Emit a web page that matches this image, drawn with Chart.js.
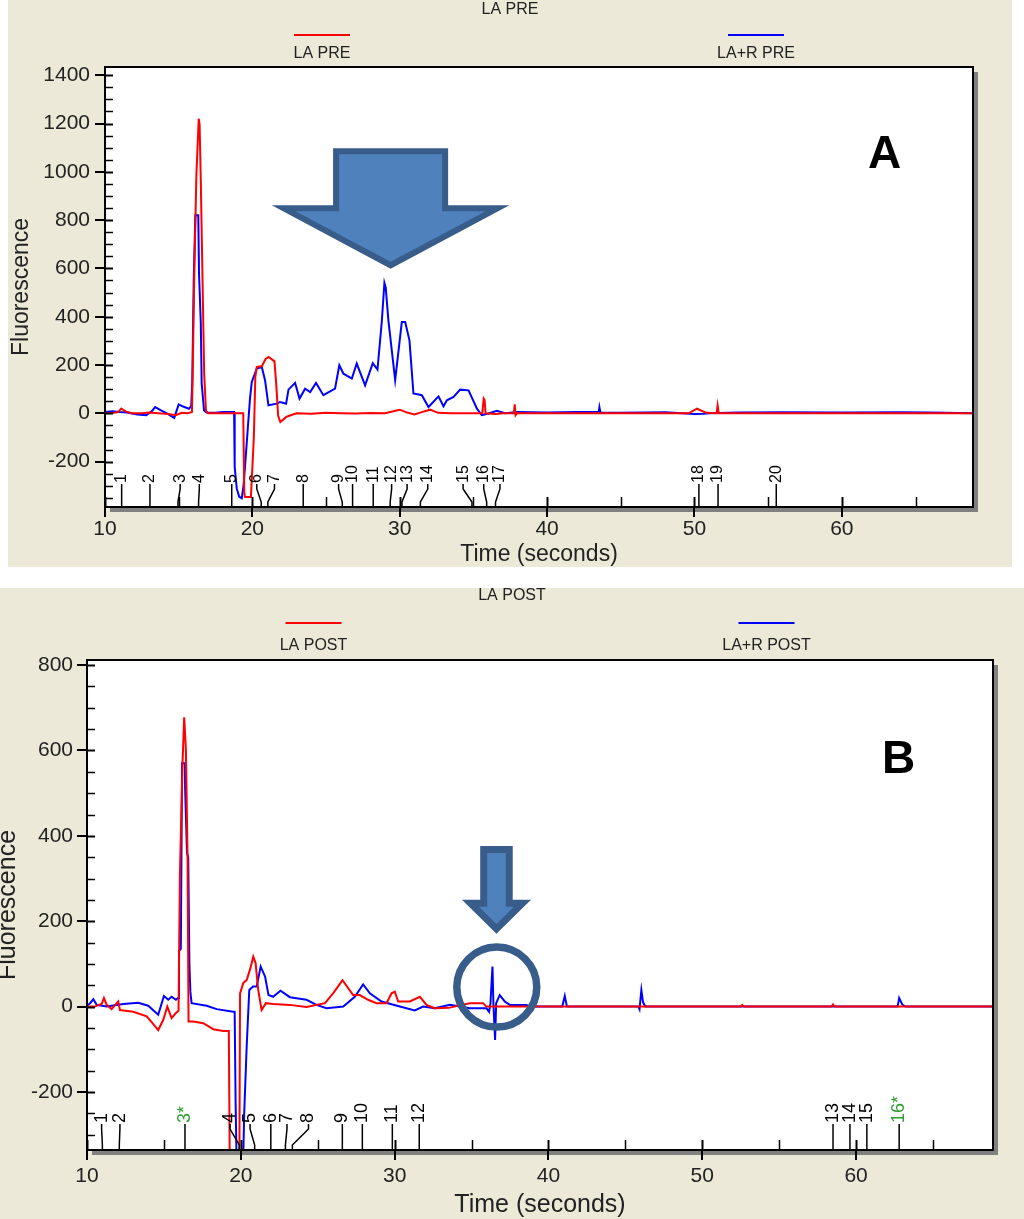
<!DOCTYPE html>
<html>
<head>
<meta charset="utf-8">
<script src="https://cdn.jsdelivr.net/npm/chart.js@4.4.1/dist/chart.umd.min.js"></script>
<style>
  body { margin: 0; background: #fff; width: 1024px; height: 1219px; position: relative; overflow: hidden; }
  .panel { position: absolute; background: #ECE9D8; }
  #pa { left: 8px; top: 0; width: 1004px; height: 567px; }
  #pb { left: 0; top: 588px; width: 1024px; height: 631px; }
  canvas { display: block; }
</style>
</head>
<body>
<div class="panel" id="pa"><canvas id="chartA" width="1004" height="567"></canvas></div>
<div class="panel" id="pb"><canvas id="chartB" width="1024" height="631"></canvas></div>
<script>
// shared x axis ticks
const timeTicks = [10, 20, 30, 40, 50, 60];

// ---- panel A : LA PRE ----
const preTitle = 'LA PRE';
const preLabels = ['LA PRE', 'LA+R PRE'];
const preTicks = [-200, 0, 200, 400, 600, 800, 1000, 1200, 1400];
const preRedTime = [10.0, 10.6, 10.9, 11.1, 11.4, 11.8, 12.5, 13.0, 13.6, 14.3, 14.8, 15.2, 15.6, 15.9, 15.97, 16.05, 16.2, 16.36, 16.42, 16.5,
  16.62, 16.73, 16.85, 17.0, 18.2, 19.38, 19.45, 19.5, 19.9, 19.98, 20.1, 20.2, 20.3, 20.64, 20.9, 21.1, 21.5, 21.62, 21.75, 21.9,
  22.3, 22.6, 23.0, 24.0, 25.0, 26.0, 27.0, 28.0, 29.0, 30.0, 30.5, 31.0, 31.5, 32.06, 32.6, 33.5, 35.6, 35.7, 35.76, 35.82,
  36.5, 37.0, 37.75, 37.8, 37.86, 37.95, 40.0, 45.0, 49.6, 50.17, 50.8, 51.5, 51.57, 51.65, 55.0, 68.9];
const preRedVal = [0, 2, 5, 20, 8, 0, 0, 3, 0, -3, -8, 2, 0, 5, 230, 550, 985, 1220, 1195, 965,
  545, 165, 10, 0, 0, 0, -330, -347, -347, -250, -100, 150, 192, 195, 225, 233, 215, 120, -10, -36,
  -15, -8, 0, -2, 2, 0, -1, 1, 0, 15, 3, -5, 5, 15, 2, 0, 0, 61, 55, 0,
  -3, 0, 0, 37, -8, 0, 0, 0, 0, 19, 2, 0, 33, 0, 0, 0];
const preBlueTime = [10.0, 10.5, 11.0, 11.5, 12.2, 12.8, 13.2, 13.4, 13.8, 14.2, 14.7, 15.0, 15.3, 15.7, 15.85, 15.92, 16.02, 16.13, 16.33, 16.38,
  16.5, 16.56, 16.72, 16.9, 17.5, 18.0, 18.76, 18.8, 18.94, 19.1, 19.28, 19.4, 19.5, 19.69, 19.84, 19.96, 20.3, 20.64, 20.86, 21.09,
  21.66, 21.88, 22.29, 22.45, 22.9, 23.2, 23.58, 23.92, 24.32, 24.82, 25.61, 25.9, 26.18, 26.75, 27.08, 27.65, 28.17, 28.49, 28.78, 28.96,
  29.05, 29.23, 29.69, 30.14, 30.37, 30.66, 30.93, 31.5, 31.95, 32.63, 32.97, 33.2, 33.65, 34.1, 34.67, 35.24, 35.57, 36.02, 36.59, 37.15,
  38.0, 40.0, 42.0, 43.5, 43.55, 43.62, 45.0, 48.0, 50.0, 50.6, 51.0, 53.0, 56.0, 60.0, 64.0, 66.0, 68.9];
const preBlueVal = [5, 8, 5, 3, -5, -8, 10, 26, 12, 0, -19, 37, 28, 19, 30, 125, 550, 820, 820, 580,
  373, 124, 12, 3, 2, 5, 5, -222, -311, -345, -352, -300, -222, -62, 62, 130, 185, 192, 137, 33,
  40, 47, 40, 98, 126, 61, 102, 88, 126, 75, 102, 199, 164, 144, 206, 116, 208, 181, 378, 540,
  520, 385, 137, 378, 378, 302, 82, 75, 26, 70, 29, 54, 68, 98, 95, 19, -8, -1, 10, 0,
  5, 3, 5, 5, 26, 3, 2, 4, -3, -2, 0, 3, 4, 3, 4, 3, 0];
const preMarkTime = [11.13, 13.05, 14.95, 16.35, 18.6, 20.6, 21.05, 23.45, 26.1, 26.8, 28.2, 29.35, 30.15, 31.4, 34.9, 35.9, 36.5, 50.3, 51.6, 55.55];
const preMarkPos = [11.13, 13.05, 15.1, 16.4, 18.6, 20.3, 21.5, 23.45, 25.85, 26.8, 28.2, 29.45, 30.5, 31.9, 34.3, 35.7, 36.8, 50.3, 51.6, 55.55];
const preMarkText = ['1', '2', '3', '4', '5', '6', '7', '8', '9', '10', '11', '12', '13', '14', '15', '16', '17', '18', '19', '20'];

// ---- panel B : LA POST ----
const postTitle = 'LA POST';
const postLabels = ['LA POST', 'LA+R POST'];
const postTicks = [-200, 0, 200, 400, 600, 800];
const postRedTime = [10.0, 10.5, 10.95, 11.1, 11.28, 11.6, 12.03, 12.14, 13.01, 13.88, 14.31, 14.63, 14.96, 15.22, 15.5, 15.78, 15.95, 16.04, 16.21, 16.32,
  16.43, 16.54, 16.6, 16.91, 17.56, 18.21, 18.86, 19.22, 19.29, 19.9, 19.95, 20.16, 20.38, 20.59, 20.81, 20.96, 21.13, 21.35, 21.63, 22.1,
  23.19, 24.27, 25.47, 26.0, 26.61, 27.3, 27.73, 28.27, 28.82, 29.47, 29.8, 30.01, 30.23, 30.99, 31.64, 32.07, 32.6, 33.5, 34.88, 35.75,
  35.97, 52.5, 52.6, 52.7, 58.4, 58.5, 58.6, 68.9];
const postRedVal = [0, 0, 6, 20, 4, -6, 12, -8, -12, -23, -41, -55, -31, 0, -27, -15, -10, 308, 571, 678,
  601, 344, -35, -35, -39, -53, -57, -57, -420, -420, 31, 55, 62, 86, 117, 102, 39, -8, 8, 6,
  4, -1, 8, 31, 62, 27, 27, 16, 8, 8, 31, 35, 12, 12, 23, 4, -4, -3, 8, 8,
  0, 0, 4, 0, 0, 5, 0, 0];
const postBlueTime = [10.0, 10.2, 10.41, 10.63, 11.28, 12.36, 13.33, 13.98, 14.63, 15.0, 15.28, 15.5, 15.78, 15.92, 15.98, 16.1, 16.18, 16.36, 16.38, 16.5,
  16.58, 16.66, 16.72, 16.8, 17.78, 18.43, 19.51, 19.6, 19.66, 19.75, 20.12, 20.22, 20.38, 20.55, 20.8, 21.03, 21.29, 21.58, 21.8, 22.1,
  22.58, 23.19, 24.27, 24.92, 25.57, 26.66, 27.41, 27.95, 28.39, 29.15, 30.34, 31.31, 31.85, 32.6, 33.6, 34.88, 35.97, 36.14, 36.23, 36.36,
  36.42, 36.53, 36.6, 36.83, 37.16, 37.49, 38.57, 38.8, 40.9, 41.06, 41.2, 45.85, 45.92, 46.04, 46.15, 46.3, 62.7, 62.8, 63.0, 63.2, 68.9];
const postBlueVal = [2, 8, 17, 4, 0, 6, 9, 2, -19, 25, 16, 23, 16, 20, 130, 135, 570, 570, 510, 360,
  350, 98, 35, 8, 2, -6, -12, -12, -222, -420, -420, -250, -94, 39, 47, 47, 94, 70, 27, 23,
  37, 22, 16, 4, -4, 0, 23, 52, 31, 12, 0, -9, 0, -4, 4, -4, -4, -12, 8, 94,
  8, -78, 8, 27, 12, 4, 4, 0, 0, 25, 0, 0, -6, 39, 10, 0, 0, 20, 5, 0, 0];
const postMarkTime = [11.0, 12.1, 16.37, 19.9, 20.9, 21.95, 22.9, 23.35, 26.6, 27.9, 29.85, 31.6, 58.5, 59.6, 60.7, 62.8];
const postMarkPos = [10.95, 12.14, 16.37, 19.3, 20.6, 21.95, 23.0, 24.4, 26.6, 27.9, 29.85, 31.6, 58.5, 59.6, 60.7, 62.8];
const postMarkText = ['1', '2', '3*', '4', '5', '6', '7', '8', '9', '10', '11', '12', '13', '14', '15', '16*'];

const FONT = "'Liberation Sans', Arial, sans-serif";
const RED = '#ff0000', BLUE = '#0000ff', GREEN = '#2e9b2e';
Chart.defaults.font.family = FONT;

function makeDeco(c) {
  return {
    id: 'deco',
    beforeDraw(chart) {
      const { ctx, chartArea: a } = chart;
      ctx.save();
      ctx.fillStyle = '#808080';
      ctx.fillRect(a.left + 5, a.top + 5, a.width, a.height);
      ctx.fillStyle = '#fff';
      ctx.fillRect(a.left, a.top, a.width, a.height);
      ctx.restore();
    },
    afterDraw(chart) {
      const { ctx, chartArea: a, scales: { x, y } } = chart;
      ctx.save();
      ctx.strokeStyle = '#000';
      ctx.lineWidth = 2;
      ctx.strokeRect(a.left, a.top, a.width, a.height);

      // inner ticks (majors every 200 / 10 s, minors every 50 / 5 s)
      for (let v = Math.ceil(y.min / 50) * 50; v <= y.max; v += 50) {
        const py = Math.round(y.getPixelForValue(v)) + 0.5;
        ctx.lineWidth = v % 200 === 0 ? 2 : 1.5;
        ctx.beginPath(); ctx.moveTo(a.left, py); ctx.lineTo(a.left + 8, py); ctx.stroke();
      }
      for (let t = Math.ceil(x.min / 5) * 5; t <= x.max; t += 5) {
        const px = Math.round(x.getPixelForValue(t)) + 0.5;
        ctx.lineWidth = t % 10 === 0 ? 2 : 1.5;
        ctx.beginPath(); ctx.moveTo(px, a.bottom); ctx.lineTo(px, a.bottom - 10); ctx.stroke();
      }

      // peak markers
      const L = c.leader;
      ctx.font = c.markFont + 'px ' + FONT;
      ctx.textAlign = 'left';
      ctx.textBaseline = 'middle';
      c.markTime.forEach((t, i) => {
        const x0 = x.getPixelForValue(t), x1 = x.getPixelForValue(c.markPos[i]);
        ctx.strokeStyle = '#000';
        ctx.lineWidth = 1.5;
        ctx.beginPath();
        ctx.moveTo(x0, a.bottom); ctx.lineTo(x0, a.bottom - 5);
        ctx.lineTo(x1, a.bottom - L + 5); ctx.lineTo(x1, a.bottom - L);
        ctx.stroke();
        ctx.save();
        ctx.translate(x1, a.bottom - L - 1);
        ctx.rotate(-Math.PI / 2);
        ctx.fillStyle = c.markText[i].indexOf('*') >= 0 ? GREEN : '#000';
        ctx.fillText(c.markText[i], 0, 0);
        ctx.restore();
      });

      // title and legend
      ctx.fillStyle = '#222';
      ctx.textAlign = 'center';
      ctx.font = '16px ' + FONT;
      ctx.fillText(c.title, chart.width / 2, c.titleY);
      const n = chart.data.datasets.length;
      chart.data.datasets.forEach((ds, i) => {
        const cx = a.left + (i + 0.5) * a.width / n;
        ctx.strokeStyle = ds.borderColor;
        ctx.lineWidth = 2;
        ctx.beginPath(); ctx.moveTo(cx - 28, c.legendLineY); ctx.lineTo(cx + 28, c.legendLineY); ctx.stroke();
        ctx.fillStyle = '#222';
        ctx.fillText(ds.label, cx, c.legendTextY);
      });

      // annotations
      ctx.fillStyle = '#4f81bd';
      ctx.strokeStyle = '#385d8a';
      ctx.lineJoin = 'miter';
      const ar = c.arrow;
      const cx = x.getPixelForValue(ar.t);
      const sl = x.getPixelForValue(ar.t - ar.shaft), sr = x.getPixelForValue(ar.t + ar.shaft);
      const hl = x.getPixelForValue(ar.t - ar.head), hr = x.getPixelForValue(ar.t + ar.head);
      const yt = y.getPixelForValue(ar.top), yw = y.getPixelForValue(ar.wing), yp = y.getPixelForValue(ar.tip);
      ctx.lineWidth = ar.lw;
      ctx.beginPath();
      ctx.moveTo(sl, yt); ctx.lineTo(sr, yt); ctx.lineTo(sr, yw); ctx.lineTo(hr, yw);
      ctx.lineTo(cx, yp); ctx.lineTo(hl, yw); ctx.lineTo(sl, yw); ctx.closePath();
      ctx.fill(); ctx.stroke();

      if (c.circle) {
        const ci = c.circle;
        const px = x.getPixelForValue(ci.t), py = y.getPixelForValue(ci.v);
        const r = x.getPixelForValue(ci.t + ci.r) - px;
        ctx.lineWidth = ci.lw;
        ctx.beginPath(); ctx.arc(px, py, r, 0, Math.PI * 2); ctx.stroke();
      }

      ctx.fillStyle = '#000';
      ctx.font = 'bold 46px ' + FONT;
      ctx.textAlign = 'center';
      ctx.textBaseline = 'middle';
      ctx.fillText(c.letter.text, x.getPixelForValue(c.letter.t), y.getPixelForValue(c.letter.v));
      ctx.restore();
    }
  };
}

function makeChart(id, c) {
  const tickFont = { size: 21, family: FONT };
  new Chart(document.getElementById(id), {
    type: 'line',
    data: {
      datasets: c.series.map(s => ({
        label: s.label,
        data: s.t.map((t, i) => ({ x: t, y: s.v[i] })),
        borderColor: s.color,
        borderWidth: 2,
        pointRadius: 0,
        tension: 0,
        fill: false
      }))
    },
    options: {
      responsive: false,
      animation: false,
      layout: { padding: c.padding },
      plugins: { legend: { display: false }, title: { display: false }, tooltip: { enabled: false } },
      scales: {
        x: {
          type: 'linear', min: 10, max: 68.9,
          afterBuildTicks: s => { s.ticks = timeTicks.map(v => ({ value: v })); },
          ticks: { font: tickFont, color: '#222', padding: c.xTickPad, maxRotation: 0, callback: v => String(v) },
          grid: { drawOnChartArea: false, tickLength: 10, color: '#000', lineWidth: 2 },
          border: { color: '#000', width: 2 },
          title: { display: true, text: 'Time (seconds)', color: '#222', font: { size: c.titleFont, lineHeight: 1 }, padding: { top: 0, bottom: c.xTitlePad } },
          afterFit: s => { s.height = c.xH; }
        },
        y: {
          type: 'linear', min: c.yMin, max: c.yMax,
          afterBuildTicks: s => { s.ticks = c.yTicks.map(v => ({ value: v })); },
          ticks: { font: tickFont, color: '#222', padding: c.yTickPad, callback: v => String(v) },
          grid: { drawOnChartArea: false, tickLength: 10, color: '#000', lineWidth: 2 },
          border: { color: '#000', width: 2 },
          title: { display: true, text: 'Fluorescence', color: '#222', font: { size: c.titleFont, lineHeight: 1 }, padding: { top: c.yTitlePad, bottom: 0 } },
          afterFit: s => { s.width = c.yW; }
        }
      }
    },
    plugins: [makeDeco(c)]
  });
}

makeChart('chartA', {
  series: [
    { label: preLabels[0], t: preRedTime, v: preRedVal, color: RED },
    { label: preLabels[1], t: preBlueTime, v: preBlueVal, color: BLUE }
  ],
  yMin: -388, yMax: 1434, yTicks: preTicks,
  padding: { left: 0, top: 67, right: 39, bottom: 2 },
  xH: 58, yW: 97, xTickPad: 0, yTickPad: 5, titleFont: 23, xTitlePad: -1.5, yTitlePad: 2.5,
  title: preTitle, titleY: 10, legendLineY: 35, legendTextY: 54,
  markTime: preMarkTime, markPos: preMarkPos, markText: preMarkText, leader: 23, markFont: 16,
  arrow: { t: 29.38, shaft: 3.7, head: 7.25, top: 1085, wing: 849, tip: 613, lw: 6 },
  letter: { text: 'A', t: 62.9, v: 1069 }
});

makeChart('chartB', {
  series: [
    { label: postLabels[0], t: postRedTime, v: postRedVal, color: RED },
    { label: postLabels[1], t: postBlueTime, v: postBlueVal, color: BLUE }
  ],
  yMin: -336, yMax: 812, yTicks: postTicks,
  padding: { left: 0, top: 72, right: 31, bottom: 4 },
  xH: 65, yW: 87, xTickPad: 4, yTickPad: 4, titleFont: 25, xTitlePad: -2.5, yTitlePad: -4,
  title: postTitle, titleY: 8, legendLineY: 35, legendTextY: 58,
  markTime: postMarkTime, markPos: postMarkPos, markText: postMarkText, leader: 26, markFont: 18,
  arrow: { t: 36.62, shaft: 0.83, head: 1.69, top: 368, wing: 242, tip: 182, lw: 7 },
  circle: { t: 36.64, v: 45.7, r: 2.6, lw: 7.5 },
  letter: { text: 'B', t: 62.76, v: 578 }
});
</script>
</body>
</html>
